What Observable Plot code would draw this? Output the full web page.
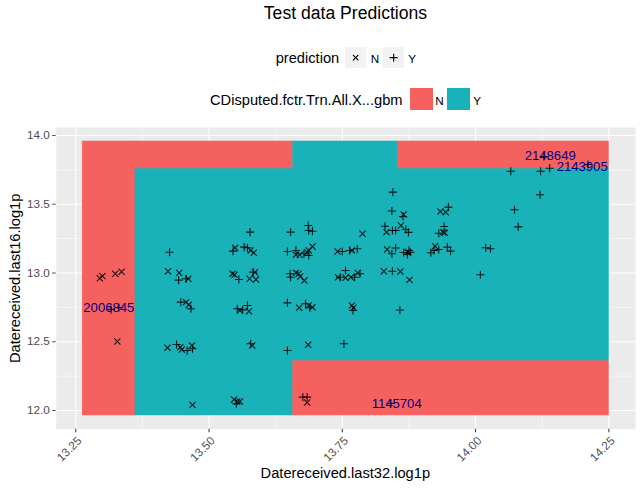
<!DOCTYPE html>
<html><head><meta charset="utf-8">
<script src="https://cdn.jsdelivr.net/npm/d3@7"></script>
<script src="https://cdn.jsdelivr.net/npm/@observablehq/plot@0.6"></script>
<style>
body{margin:0;background:#fff;font-family:"Liberation Sans",Arial,Helvetica,sans-serif;}
#wrap{position:relative;width:642px;height:489px;overflow:hidden;}
.t{position:absolute;white-space:nowrap;color:#000;line-height:1;}
.k{position:absolute;}
#chart{position:absolute;left:0;top:120px;}
</style></head><body>
<div id="wrap">
  <div class="t" style="left:0;width:691px;top:5px;text-align:center;font-size:17.6px">Test data Predictions</div>
  <div class="t" style="left:275.7px;top:51.1px;font-size:14.67px">prediction</div>
  <svg class="k" style="left:345.3px;top:46.7px" width="21.3" height="21.3"><rect width="21.3" height="21.3" fill="#F2F2F2"/><path d="M7.9,7.9L13.4,13.4M13.4,7.9L7.9,13.4" stroke="#000" stroke-width="1.1"/></svg>
  <div class="t" style="left:370.7px;top:53.4px;font-size:11.7px">N</div>
  <svg class="k" style="left:382.7px;top:46.7px" width="21.3" height="21.3"><rect width="21.3" height="21.3" fill="#F2F2F2"/><path d="M6.65,10.65H14.65M10.65,6.65V14.65" stroke="#000" stroke-width="1.1"/></svg>
  <div class="t" style="left:408.3px;top:53.4px;font-size:11.7px">Y</div>
  <div class="t" style="left:210px;top:92.6px;font-size:14.67px">CDisputed.fctr.Trn.All.X...gbm</div>
  <div class="k" id="kN" style="left:410px;top:87.7px;width:22.7px;height:22.3px"></div>
  <div class="t" style="left:435.3px;top:94.8px;font-size:11.7px">N</div>
  <div class="k" id="kY" style="left:447.3px;top:87.7px;width:22.7px;height:22.3px"></div>
  <div class="t" style="left:473.3px;top:94.8px;font-size:11.7px">Y</div>
  <div id="chart"></div>
  <div class="t" style="left:0;width:690.7px;top:466.4px;text-align:center;font-size:14.67px">Datereceived.last32.log1p</div>
  <div class="t" style="left:-135.5px;width:300px;top:270.7px;text-align:center;font-size:14.67px;transform:rotate(-90deg);transform-origin:150px 7.33px">Datereceived.last16.log1p</div>
</div>
<script>
// classes and colours
const classes = ["N", "Y"];
const classColors = ["#F5615E", "#19B2B8"];

// axis ticks
const xTicks = [13.25, 13.5, 13.75, 14.0, 14.25];
const xMinor = [13.375, 13.625, 13.875, 14.125];
const yTicks = [12.0, 12.5, 13.0, 13.5, 14.0];
const yMinor = [12.25, 12.75, 13.25, 13.75];

// decision surface tiles
const tileX1 = [13.263, 13.362, 13.658, 13.855, 13.362, 13.658, 13.658];
const tileX2 = [13.362, 13.658, 13.855, 14.250, 13.658, 14.250, 14.250];
const tileY1 = [11.964, 13.755, 13.755, 13.755, 11.964, 12.358, 11.964];
const tileY2 = [13.956, 13.956, 13.956, 13.956, 13.755, 13.755, 12.358];
const tileClass = ["N", "N", "Y", "N", "Y", "Y", "N"];

// test points predicted N (x)
const predN_x = [13.295,13.300,13.324,13.336,13.328,13.423,13.444,13.461,13.457,13.462,13.422,13.446,13.449,13.468,13.469,
  13.549,13.578,13.584,13.544,13.548,13.586,13.576,13.588,13.575,13.558,13.581,13.547,13.553,13.558,
  13.663,13.670,13.684,13.687,13.694,13.663,13.668,13.671,13.679,13.669,13.687,13.694,13.686,13.684,
  13.788,13.741,13.768,13.742,13.756,13.766,13.779,13.768,13.771,
  13.865,13.833,13.860,13.834,13.873,13.828,13.859,13.876,13.934,13.944,13.939,13.942,13.924];
const predN_y = [12.962,12.977,12.994,13.009,12.502,13.013,13.001,12.958,12.788,12.769,12.456,12.460,12.444,12.473,12.041,
  13.183,13.164,13.147,12.994,12.987,13.006,12.958,12.953,12.722,12.727,12.473,12.080,12.065,12.065,
  13.132,13.132,13.151,13.164,13.193,13.001,12.994,12.974,12.945,12.747,12.764,12.751,12.478,12.058,
  13.285,13.156,13.164,12.969,12.965,12.969,13.001,12.764,12.747,
  13.425,13.297,13.345,13.171,13.153,13.013,13.011,12.950,13.447,13.442,13.297,13.292,13.195];

// test points predicted Y (+)
const predY_x = [13.316,13.331,13.426,13.443,13.457,13.447,13.466,13.439,13.459,13.469,
  13.577,13.545,13.566,13.572,13.556,13.583,13.553,13.563,13.572,13.578,13.551,
  13.653,13.686,13.687,13.694,13.647,13.663,13.678,13.687,13.652,13.653,13.647,13.681,13.689,13.647,13.676,13.684,
  13.750,13.764,13.778,13.746,13.756,13.773,13.783,13.770,13.753,
  13.845,13.843,13.864,13.830,13.844,13.850,13.869,13.874,13.843,13.850,13.865,13.875,13.872,13.878,13.844,13.858,13.841,
  13.949,13.941,13.931,13.916,13.922,13.931,13.947,13.953,
  14.019,14.028,14.009,14.066,14.122,14.139,14.211,14.128,14.121,14.073,14.080];
const predY_y = [12.734,12.749,13.151,12.948,12.958,12.788,12.740,12.480,12.436,12.449,
  13.297,13.159,13.188,13.183,12.953,13.006,12.740,12.732,12.764,12.485,12.049,
  13.297,13.345,13.309,13.304,13.156,13.164,13.140,13.127,12.994,12.969,12.783,12.776,12.747,12.436,12.097,12.097,
  13.156,13.164,13.176,12.969,13.018,12.969,12.994,12.727,12.485,
  13.588,13.451,13.411,13.340,13.309,13.309,13.316,13.295,13.140,13.182,13.149,13.164,13.135,13.151,13.013,12.731,12.051,
  13.479,13.338,13.289,13.147,13.164,13.171,13.188,13.159,
  13.183,13.176,12.987,13.740,13.740,13.762,13.789,13.847,13.569,13.460,13.335];

// labelled ids
const labelId = ["2006845", "2148649", "2143905", "1145704"];
const labelX = [13.312, 14.140, 14.200, 13.852];
const labelY = [12.748, 13.855, 13.769, 12.051];

const tiles = tileClass.map((c, i) => ({x1: tileX1[i], x2: tileX2[i], y1: tileY1[i], y2: tileY2[i], cls: c}));
const ptsN = predN_x.map((x, i) => ({x, y: predN_y[i]}));
const ptsY = predY_x.map((x, i) => ({x, y: predY_y[i]}));
const labels = labelId.map((id, i) => ({id, x: labelX[i], y: labelY[i]}));

document.getElementById("kN").style.background = classColors[0];
document.getElementById("kY").style.background = classColors[1];

const chart = Plot.plot({
  width: 642, height: 369,
  marginTop: 7, marginBottom: 60.3, marginLeft: 55.7, marginRight: 7,
  x: {domain: [13.2133, 14.300]},
  y: {domain: [11.864, 14.058]},
  color: {domain: classes, range: classColors},
  style: {fontFamily: "Liberation Sans, Arial, sans-serif", fontSize: "11.7px", background: "transparent", overflow: "visible"},
  marks: [
    Plot.frame({fill: "#EBEBEB", stroke: "none"}),
    Plot.ruleX(xMinor, {stroke: "#FFFFFF", strokeWidth: 0.55, strokeOpacity: 1}),
    Plot.ruleY(yMinor, {stroke: "#FFFFFF", strokeWidth: 0.55, strokeOpacity: 1}),
    Plot.ruleX(xTicks, {stroke: "#FFFFFF", strokeWidth: 1.1, strokeOpacity: 1}),
    Plot.ruleY(yTicks, {stroke: "#FFFFFF", strokeWidth: 1.1, strokeOpacity: 1}),
    Plot.rect(tiles, {x1: "x1", x2: "x2", y1: "y1", y2: "y2", fill: "cls", stroke: "cls", strokeWidth: 0.6}),
    Plot.dot(ptsN, {x: "x", y: "y", symbol: "times", r: 2.9, stroke: "#000", fill: "none", strokeWidth: 1.1, strokeOpacity: 0.85}),
    Plot.dot(ptsY, {x: "x", y: "y", symbol: "plus", r: 2.75, stroke: "#000", fill: "none", strokeWidth: 1.1, strokeOpacity: 0.85}),
    Plot.text(labels, {x: "x", y: "y", text: "id", fill: "#00008B", fontSize: 13.1}),
    Plot.axisX(xTicks, {tickFormat: () => "", tickSize: 3.6, label: null, stroke: "#333333"}),
    Plot.axisX(xTicks, {tickFormat: d3.format(".2f"), tickRotate: -45, tickSize: 0, tickPadding: 6.6, dx: 4, dy: 3, label: null, fill: "#4D4D4D"}),
    Plot.axisY(yTicks, {tickFormat: d3.format(".1f"), tickSize: 3.5, tickPadding: 3, label: null, color: "#4D4D4D"})
  ]
});
document.getElementById("chart").appendChild(chart);
</script>
</body></html>
